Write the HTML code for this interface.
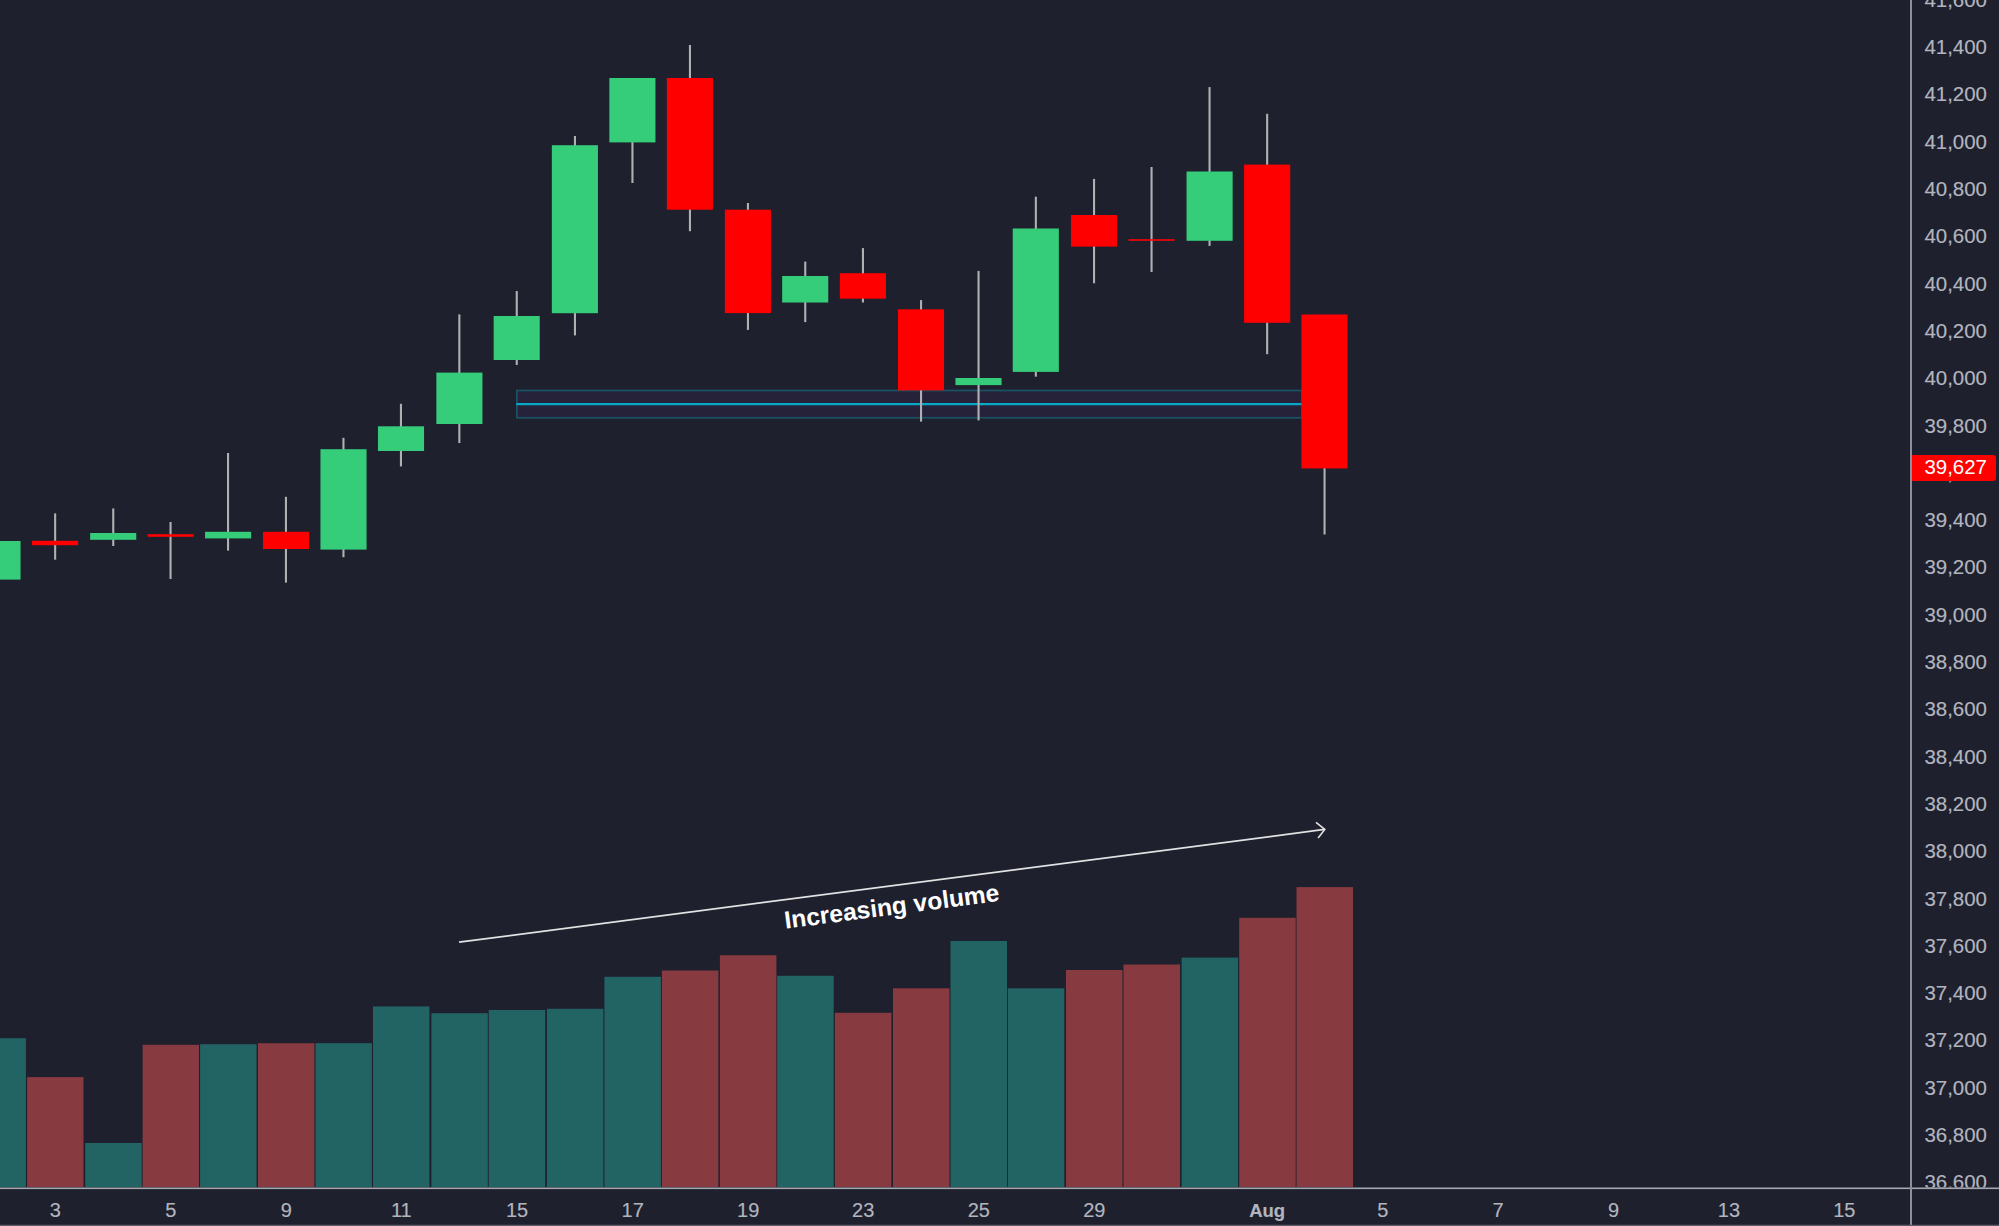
<!DOCTYPE html>
<html lang="en"><head><meta charset="utf-8"><title>Chart</title>
<style>html,body{margin:0;padding:0;background:#1f202e;overflow:hidden}svg{display:block}text{font-family:"Liberation Sans",Arial,sans-serif}.ax text{stroke:#b2b5be;stroke-width:.15px}</style></head><body>
<svg width="1999" height="1226" viewBox="0 0 1999 1226">
<rect width="1999" height="1226" fill="#1f202e"/>
<g id="volume">
<rect x="0.0" y="1038.2" width="25.9" height="148.8" fill="#226364"/>
<rect x="27.1" y="1077.1" width="56.4" height="109.9" fill="#873a3f"/>
<rect x="85.2" y="1143.0" width="56.5" height="44.0" fill="#226364"/>
<rect x="142.6" y="1044.8" width="56.4" height="142.2" fill="#873a3f"/>
<rect x="200.1" y="1044.2" width="56.5" height="142.8" fill="#226364"/>
<rect x="258.0" y="1043.2" width="56.4" height="143.8" fill="#873a3f"/>
<rect x="315.5" y="1043.2" width="56.4" height="143.8" fill="#226364"/>
<rect x="373.0" y="1006.4" width="56.4" height="180.6" fill="#226364"/>
<rect x="431.4" y="1013.2" width="56.4" height="173.8" fill="#226364"/>
<rect x="488.7" y="1010.0" width="56.5" height="177.0" fill="#226364"/>
<rect x="546.9" y="1008.8" width="56.5" height="178.2" fill="#226364"/>
<rect x="604.4" y="976.8" width="56.5" height="210.2" fill="#226364"/>
<rect x="661.9" y="970.5" width="56.5" height="216.5" fill="#873a3f"/>
<rect x="719.9" y="955.2" width="56.5" height="231.8" fill="#873a3f"/>
<rect x="777.2" y="975.8" width="56.5" height="211.2" fill="#226364"/>
<rect x="834.9" y="1012.8" width="56.5" height="174.2" fill="#873a3f"/>
<rect x="893.0" y="988.3" width="56.5" height="198.7" fill="#873a3f"/>
<rect x="950.5" y="941.0" width="56.5" height="246.0" fill="#226364"/>
<rect x="1007.8" y="988.3" width="56.5" height="198.7" fill="#226364"/>
<rect x="1066.0" y="970.0" width="56.5" height="217.0" fill="#873a3f"/>
<rect x="1123.5" y="964.5" width="56.5" height="222.5" fill="#873a3f"/>
<rect x="1181.6" y="957.6" width="56.5" height="229.4" fill="#226364"/>
<rect x="1239.2" y="917.8" width="56.5" height="269.2" fill="#873a3f"/>
<rect x="1296.5" y="887.1" width="56.5" height="299.9" fill="#873a3f"/>
</g>
<g id="zone"><rect x="516.9" y="390.5" width="785.1" height="27.3" fill="#26223a" stroke="#1b5162" stroke-width="1.8"/>
<line x1="516.3" y1="404.1" x2="1302" y2="404.1" stroke="#07a8c5" stroke-width="2.2"/></g>
<g id="candles">
<rect x="0.00" y="541.0" width="20.55" height="38.6" fill="#35cd79"/>
<rect x="54.1" y="513.4" width="2.1" height="46.3" fill="#b0b0b0"/>
<rect x="32.05" y="540.8" width="46.10" height="4.4" fill="#ff0000"/>
<rect x="112.2" y="508.4" width="2.1" height="37.6" fill="#b0b0b0"/>
<rect x="90.15" y="533.0" width="46.10" height="6.8" fill="#35cd79"/>
<rect x="169.5" y="522.0" width="2.1" height="57.0" fill="#b0b0b0"/>
<rect x="147.55" y="534.2" width="46.10" height="2.6" fill="#ff0000"/>
<rect x="227.0" y="453.0" width="2.1" height="97.6" fill="#b0b0b0"/>
<rect x="205.05" y="531.8" width="46.10" height="6.6" fill="#35cd79"/>
<rect x="284.9" y="496.8" width="2.1" height="85.8" fill="#b0b0b0"/>
<rect x="262.95" y="531.8" width="46.10" height="17.2" fill="#ff0000"/>
<rect x="342.4" y="437.8" width="2.1" height="119.4" fill="#b0b0b0"/>
<rect x="320.45" y="449.2" width="46.10" height="100.4" fill="#35cd79"/>
<rect x="399.9" y="403.8" width="2.1" height="62.6" fill="#b0b0b0"/>
<rect x="377.95" y="426.3" width="46.10" height="24.7" fill="#35cd79"/>
<rect x="458.3" y="314.4" width="2.1" height="128.6" fill="#b0b0b0"/>
<rect x="436.35" y="372.6" width="46.10" height="51.4" fill="#35cd79"/>
<rect x="515.7" y="291.0" width="2.1" height="74.0" fill="#b0b0b0"/>
<rect x="493.65" y="316.0" width="46.10" height="44.0" fill="#35cd79"/>
<rect x="573.9" y="136.0" width="2.1" height="199.4" fill="#b0b0b0"/>
<rect x="551.85" y="145.2" width="46.10" height="168.0" fill="#35cd79"/>
<rect x="631.4" y="80.0" width="2.1" height="103.0" fill="#b0b0b0"/>
<rect x="609.35" y="78.0" width="46.10" height="64.4" fill="#35cd79"/>
<rect x="688.9" y="45.0" width="2.1" height="186.2" fill="#b0b0b0"/>
<rect x="666.85" y="78.0" width="46.10" height="131.7" fill="#ff0000"/>
<rect x="746.9" y="203.0" width="2.1" height="126.9" fill="#b0b0b0"/>
<rect x="724.85" y="209.7" width="46.10" height="103.4" fill="#ff0000"/>
<rect x="804.2" y="261.6" width="2.1" height="60.5" fill="#b0b0b0"/>
<rect x="782.15" y="276.0" width="46.10" height="26.5" fill="#35cd79"/>
<rect x="861.9" y="248.1" width="2.1" height="54.4" fill="#b0b0b0"/>
<rect x="839.85" y="273.2" width="46.10" height="25.5" fill="#ff0000"/>
<rect x="920.0" y="300.1" width="2.1" height="121.5" fill="#b0b0b0"/>
<rect x="897.95" y="309.3" width="46.10" height="81.1" fill="#ff0000"/>
<rect x="977.5" y="270.9" width="2.1" height="149.5" fill="#b0b0b0"/>
<rect x="955.45" y="378.0" width="46.10" height="7.1" fill="#35cd79"/>
<rect x="1034.8" y="196.7" width="2.1" height="180.0" fill="#b0b0b0"/>
<rect x="1012.75" y="228.5" width="46.10" height="143.4" fill="#35cd79"/>
<rect x="1093.0" y="178.9" width="2.1" height="104.4" fill="#b0b0b0"/>
<rect x="1070.95" y="215.0" width="46.10" height="31.6" fill="#ff0000"/>
<rect x="1150.5" y="167.0" width="2.1" height="105.0" fill="#b0b0b0"/>
<rect x="1128.45" y="239.2" width="46.10" height="1.6" fill="#ff0000"/>
<rect x="1208.5" y="87.1" width="2.1" height="158.8" fill="#b0b0b0"/>
<rect x="1186.55" y="171.5" width="46.10" height="69.3" fill="#35cd79"/>
<rect x="1266.1" y="113.8" width="2.1" height="240.4" fill="#b0b0b0"/>
<rect x="1244.10" y="164.6" width="46.10" height="158.2" fill="#ff0000"/>
<rect x="1323.5" y="317.0" width="2.1" height="217.5" fill="#b0b0b0"/>
<rect x="1301.45" y="314.5" width="46.10" height="153.9" fill="#ff0000"/>
</g>
<g id="note" stroke="#e2e2e2" fill="none"><line x1="459" y1="942.2" x2="1324.4" y2="829.45" stroke-width="1.7"/>
<polyline points="1316,822.3 1324.8,829.4 1318.1,837.9" stroke-width="1.6" stroke-linejoin="miter"/></g>
<text transform="translate(785.5,928.7) rotate(-7.4)" font-size="24.6" font-weight="700" fill="#ffffff" textLength="216.5" lengthAdjust="spacingAndGlyphs">Increasing volume</text>
<g id="paxis"><clipPath id="pc"><rect x="1912" y="0" width="87" height="1187.5"/></clipPath><g class="ax" clip-path="url(#pc)" font-size="19.5" fill="#b2b5be">
<text x="1924.4" y="6.8" textLength="62.6" lengthAdjust="spacingAndGlyphs">41,600</text>
<text x="1924.4" y="54.1" textLength="62.6" lengthAdjust="spacingAndGlyphs">41,400</text>
<text x="1924.4" y="101.4" textLength="62.6" lengthAdjust="spacingAndGlyphs">41,200</text>
<text x="1924.4" y="148.7" textLength="62.6" lengthAdjust="spacingAndGlyphs">41,000</text>
<text x="1924.4" y="196.0" textLength="62.6" lengthAdjust="spacingAndGlyphs">40,800</text>
<text x="1924.4" y="243.3" textLength="62.6" lengthAdjust="spacingAndGlyphs">40,600</text>
<text x="1924.4" y="290.6" textLength="62.6" lengthAdjust="spacingAndGlyphs">40,400</text>
<text x="1924.4" y="337.9" textLength="62.6" lengthAdjust="spacingAndGlyphs">40,200</text>
<text x="1924.4" y="385.2" textLength="62.6" lengthAdjust="spacingAndGlyphs">40,000</text>
<text x="1924.4" y="432.5" textLength="62.6" lengthAdjust="spacingAndGlyphs">39,800</text>
<text x="1924.4" y="479.8" textLength="62.6" lengthAdjust="spacingAndGlyphs">39,600</text>
<text x="1924.4" y="527.1" textLength="62.6" lengthAdjust="spacingAndGlyphs">39,400</text>
<text x="1924.4" y="574.4" textLength="62.6" lengthAdjust="spacingAndGlyphs">39,200</text>
<text x="1924.4" y="621.7" textLength="62.6" lengthAdjust="spacingAndGlyphs">39,000</text>
<text x="1924.4" y="669.0" textLength="62.6" lengthAdjust="spacingAndGlyphs">38,800</text>
<text x="1924.4" y="716.3" textLength="62.6" lengthAdjust="spacingAndGlyphs">38,600</text>
<text x="1924.4" y="763.6" textLength="62.6" lengthAdjust="spacingAndGlyphs">38,400</text>
<text x="1924.4" y="810.9" textLength="62.6" lengthAdjust="spacingAndGlyphs">38,200</text>
<text x="1924.4" y="858.2" textLength="62.6" lengthAdjust="spacingAndGlyphs">38,000</text>
<text x="1924.4" y="905.5" textLength="62.6" lengthAdjust="spacingAndGlyphs">37,800</text>
<text x="1924.4" y="952.8" textLength="62.6" lengthAdjust="spacingAndGlyphs">37,600</text>
<text x="1924.4" y="1000.1" textLength="62.6" lengthAdjust="spacingAndGlyphs">37,400</text>
<text x="1924.4" y="1047.4" textLength="62.6" lengthAdjust="spacingAndGlyphs">37,200</text>
<text x="1924.4" y="1094.7" textLength="62.6" lengthAdjust="spacingAndGlyphs">37,000</text>
<text x="1924.4" y="1142.0" textLength="62.6" lengthAdjust="spacingAndGlyphs">36,800</text>
<text x="1924.4" y="1189.3" textLength="62.6" lengthAdjust="spacingAndGlyphs">36,600</text>
</g>
<path d="M1912 455H1993a3 3 0 0 1 3 3v20a3 3 0 0 1 -3 3H1912z" fill="#ff0000"/>
<text x="1924.4" y="474.2" font-size="19.5" fill="#ffffff" textLength="62.6" lengthAdjust="spacingAndGlyphs">39,627</text>
</g>
<rect x="0" y="1187.5" width="1999" height="1.6" fill="#a6a8b0"/>
<rect x="1910" y="0" width="2" height="1226" fill="#8f919a"/>
<rect x="0" y="1224.7" width="1999" height="1.3" fill="#595b68"/>
<g id="taxis" class="ax" font-size="20" fill="#b2b5be" text-anchor="middle">
<text x="55.4" y="1216.9">3</text>
<text x="170.9" y="1216.9">5</text>
<text x="286.3" y="1216.9">9</text>
<text x="401.3" y="1216.9">11</text>
<text x="517.0" y="1216.9">15</text>
<text x="632.7" y="1216.9">17</text>
<text x="748.2" y="1216.9">19</text>
<text x="863.2" y="1216.9">23</text>
<text x="978.8" y="1216.9">25</text>
<text x="1094.3" y="1216.9">29</text>
<text x="1382.7" y="1216.9">5</text>
<text x="1498.1" y="1216.9">7</text>
<text x="1613.5" y="1216.9">9</text>
<text x="1728.9" y="1216.9">13</text>
<text x="1844.3" y="1216.9">15</text>
<text x="1267.2" y="1216.5" font-size="19" font-weight="700" textLength="36" lengthAdjust="spacingAndGlyphs">Aug</text>
</g>
</svg></body></html>
